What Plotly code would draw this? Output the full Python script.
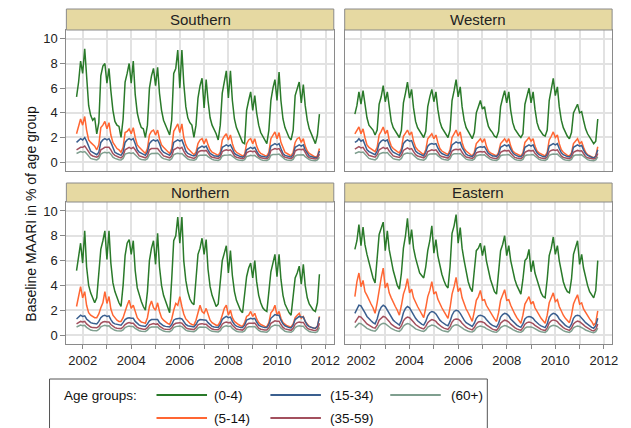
import pandas as pd
import plotly.graph_objects as go

W, H = 631, 428
def px(x): return x / W
def py(y): return 1 - y / H

# ---------------- data (monthly, Oct 2001 .. Oct 2011) ----------------
months = pd.date_range("2001-10-01", periods=121, freq="MS")
regions = ["Southern", "Western", "Northern", "Eastern"]
age_groups = ["(0-4)", "(5-14)", "(15-34)", "(35-59)", "(60+)"]

southern_0_4 = [5.3, 6.5, 8.2,
 7.2, 9.2, 6.8, 4.6, 3.8, 3.4, 3.6, 2.3, 3.2, 7.0, 7.8, 8.0,
 6.4, 7.6, 5.8, 4.2, 3.3, 3.0, 2.9, 2.0, 3.5, 6.5, 7.2, 8.0,
 6.4, 8.2, 5.5, 4.0, 3.3, 2.8, 2.7, 2.0, 3.0, 6.0, 7.0, 7.6,
 6.2, 7.7, 5.6, 4.2, 3.4, 3.0, 2.5, 2.2, 3.4, 7.2, 7.6, 9.1,
 6.0, 9.1, 6.4, 4.5, 3.6, 3.2, 3.0, 2.0, 3.0, 5.2, 6.2, 6.8,
 4.4, 6.7, 5.0, 3.6, 3.0, 2.7, 2.3, 1.8, 3.0, 5.6, 6.5, 7.4,
 5.2, 7.4, 5.0, 3.5, 2.8, 2.4, 2.0, 1.6, 1.5, 4.2, 5.0, 5.7,
 4.2, 5.4, 4.0, 3.0, 2.4, 2.1, 1.9, 1.5, 2.6, 5.0, 6.0, 6.7,
 5.0, 7.3, 5.0, 3.5, 2.8, 2.3, 2.0, 1.8, 2.6, 5.4, 6.0, 6.5,
 4.8, 6.3, 4.6, 3.4, 2.7, 2.3, 2.0, 1.5, 2.2, 3.9]
southern_5_14 = [2.3, 3.0, 3.5,
 3.0, 3.7, 2.6, 1.8, 1.6, 1.4, 1.3, 1.0, 1.4, 2.8, 3.0, 3.3,
 2.7, 3.2, 2.2, 1.6, 1.3, 1.1, 1.0, 0.8, 1.2, 2.4, 2.5, 2.7,
 2.3, 2.8, 2.0, 1.4, 1.2, 1.0, 0.9, 0.7, 1.1, 2.2, 2.5, 2.6,
 2.2, 2.6, 1.9, 1.4, 1.2, 1.0, 0.9, 0.7, 1.1, 2.5, 2.8, 3.1,
 2.4, 3.1, 2.0, 1.4, 1.1, 0.9, 0.8, 0.6, 0.8, 1.5, 1.8, 1.9,
 1.5, 1.9, 1.4, 1.0, 0.8, 0.7, 0.6, 0.55, 0.8, 1.8, 2.1, 2.3,
 1.8, 2.2, 1.5, 1.0, 0.8, 0.7, 0.6, 0.5, 0.6, 1.5, 1.8, 1.9,
 1.5, 1.9, 1.3, 0.9, 0.7, 0.6, 0.55, 0.5, 0.8, 1.9, 2.2, 2.45,
 1.9, 2.4, 1.6, 1.1, 0.8, 0.7, 0.6, 0.5, 0.8, 1.6, 1.9, 2.0,
 1.6, 1.9, 1.3, 0.9, 0.7, 0.6, 0.5, 0.4, 0.5, 1.1]
southern_15_34 = [1.6, 1.8, 1.9,
 1.8, 2.0, 1.7, 1.2, 0.9, 0.8, 0.7, 0.6, 0.8, 1.6, 1.8, 1.9,
 1.8, 1.9, 1.6, 1.1, 0.8, 0.7, 0.6, 0.55, 0.8, 1.6, 1.8, 1.9,
 1.8, 1.9, 1.5, 1.0, 0.8, 0.7, 0.6, 0.55, 0.8, 1.5, 1.7, 1.8,
 1.7, 1.8, 1.5, 1.0, 0.8, 0.7, 0.6, 0.55, 0.8, 1.6, 1.7, 1.8,
 1.7, 1.8, 1.4, 0.9, 0.7, 0.6, 0.55, 0.5, 0.6, 1.1, 1.2, 1.3,
 1.2, 1.3, 1.0, 0.7, 0.6, 0.5, 0.5, 0.45, 0.6, 1.2, 1.3, 1.4,
 1.3, 1.4, 1.1, 0.7, 0.6, 0.5, 0.45, 0.4, 0.5, 1.0, 1.1, 1.2,
 1.1, 1.2, 0.9, 0.6, 0.5, 0.45, 0.45, 0.4, 0.6, 1.3, 1.4, 1.5,
 1.4, 1.5, 1.1, 0.7, 0.55, 0.5, 0.45, 0.4, 0.6, 1.2, 1.3, 1.4,
 1.3, 1.4, 1.0, 0.7, 0.5, 0.45, 0.4, 0.35, 0.4, 0.9]
southern_35_59 = [1.0, 1.1, 1.2,
 1.2, 1.3, 1.1, 0.8, 0.6, 0.5, 0.45, 0.4, 0.5, 1.0, 1.1, 1.2,
 1.2, 1.2, 1.0, 0.7, 0.55, 0.45, 0.4, 0.35, 0.5, 1.0, 1.1, 1.2,
 1.1, 1.2, 1.0, 0.7, 0.5, 0.45, 0.4, 0.35, 0.5, 1.0, 1.1, 1.1,
 1.1, 1.1, 0.9, 0.65, 0.5, 0.45, 0.4, 0.35, 0.5, 1.0, 1.1, 1.2,
 1.1, 1.2, 0.9, 0.6, 0.45, 0.4, 0.35, 0.3, 0.4, 0.8, 0.9, 0.95,
 0.9, 0.95, 0.75, 0.5, 0.4, 0.35, 0.3, 0.3, 0.4, 0.85, 0.95, 1.0,
 0.95, 1.0, 0.8, 0.5, 0.4, 0.35, 0.3, 0.28, 0.35, 0.75, 0.85, 0.9,
 0.85, 0.9, 0.7, 0.45, 0.35, 0.3, 0.3, 0.28, 0.4, 0.95, 1.05, 1.1,
 1.05, 1.1, 0.85, 0.5, 0.4, 0.35, 0.3, 0.28, 0.4, 0.9, 1.0, 1.05,
 1.0, 1.05, 0.8, 0.5, 0.35, 0.3, 0.28, 0.25, 0.3, 0.65]
southern_60 = [0.7, 0.8, 0.85,
 0.8, 0.85, 0.7, 0.45, 0.3, 0.25, 0.2, 0.18, 0.3, 0.65, 0.75, 0.8,
 0.75, 0.8, 0.65, 0.4, 0.3, 0.22, 0.2, 0.17, 0.3, 0.65, 0.7, 0.75,
 0.7, 0.75, 0.6, 0.4, 0.28, 0.22, 0.2, 0.17, 0.28, 0.6, 0.7, 0.72,
 0.7, 0.72, 0.6, 0.38, 0.28, 0.22, 0.2, 0.16, 0.28, 0.6, 0.68, 0.72,
 0.68, 0.7, 0.55, 0.35, 0.25, 0.2, 0.18, 0.15, 0.22, 0.5, 0.55, 0.58,
 0.55, 0.58, 0.45, 0.3, 0.22, 0.18, 0.16, 0.14, 0.22, 0.5, 0.56, 0.6,
 0.58, 0.6, 0.48, 0.3, 0.22, 0.18, 0.15, 0.13, 0.2, 0.45, 0.5, 0.55,
 0.52, 0.55, 0.42, 0.28, 0.2, 0.16, 0.15, 0.13, 0.22, 0.55, 0.62, 0.65,
 0.62, 0.65, 0.5, 0.3, 0.22, 0.18, 0.15, 0.13, 0.22, 0.5, 0.58, 0.6,
 0.58, 0.6, 0.45, 0.28, 0.2, 0.16, 0.14, 0.12, 0.18, 0.4]

western_0_4 = [3.9, 4.6, 5.7,
 4.7, 5.8, 4.6, 3.6, 3.0, 2.8, 2.6, 2.2, 2.6, 4.7, 5.3, 6.2,
 4.9, 5.7, 4.4, 3.3, 2.8, 2.5, 2.3, 2.0, 2.6, 4.8, 5.6, 6.5,
 5.2, 5.9, 4.4, 3.3, 2.8, 2.5, 2.3, 2.0, 2.5, 4.5, 5.3, 5.9,
 4.9, 5.7, 4.3, 3.3, 2.8, 2.5, 2.3, 2.0, 2.6, 5.0, 5.8, 6.7,
 5.3, 6.1, 4.5, 3.4, 2.8, 2.5, 2.2, 1.9, 2.4, 4.0, 4.5, 5.0,
 4.3, 4.5, 3.6, 2.9, 2.6, 2.4, 2.1, 2.0, 2.5, 4.5, 5.2, 5.8,
 4.8, 5.7, 4.2, 3.2, 2.7, 2.4, 2.2, 2.0, 2.3, 4.7, 5.3, 6.0,
 4.8, 5.7, 4.3, 3.2, 2.7, 2.4, 2.2, 2.1, 2.6, 5.0, 5.8, 6.8,
 5.4, 6.1, 4.5, 3.4, 2.8, 2.4, 2.1, 1.9, 2.4, 4.0, 4.4, 4.7,
 4.0, 4.1, 3.4, 2.7, 2.3, 2.0, 1.8, 1.5, 1.7, 3.5]
western_5_14 = [2.3, 2.6, 2.85,
 2.3, 2.7, 2.0, 1.4, 1.2, 1.1, 1.0, 0.85, 1.2, 2.2, 2.5, 2.85,
 2.3, 2.6, 1.8, 1.3, 1.1, 0.95, 0.85, 0.75, 1.1, 2.1, 2.4, 2.6,
 2.2, 2.45, 1.7, 1.2, 1.0, 0.85, 0.75, 0.6, 1.0, 1.9, 2.1, 2.3,
 1.9, 2.2, 1.6, 1.1, 0.9, 0.8, 0.7, 0.6, 1.0, 2.0, 2.3, 2.6,
 2.1, 2.45, 1.6, 1.1, 0.9, 0.75, 0.65, 0.5, 0.8, 1.5, 1.7, 1.9,
 1.6, 1.9, 1.3, 0.9, 0.75, 0.65, 0.6, 0.5, 0.8, 1.5, 1.7, 1.9,
 1.6, 1.9, 1.3, 0.9, 0.75, 0.65, 0.55, 0.5, 0.75, 1.6, 1.8, 2.0,
 1.7, 1.9, 1.3, 0.9, 0.75, 0.65, 0.55, 0.5, 0.8, 1.8, 2.1, 2.45,
 2.0, 2.2, 1.5, 1.0, 0.8, 0.65, 0.55, 0.5, 0.75, 1.5, 1.7, 1.9,
 1.5, 1.65, 1.2, 0.8, 0.6, 0.5, 0.45, 0.35, 0.5, 1.25]
western_15_34 = [1.6, 1.7, 1.9,
 1.7, 1.8, 1.4, 1.0, 0.85, 0.75, 0.7, 0.6, 0.9, 1.5, 1.7, 1.8,
 1.7, 1.8, 1.4, 1.0, 0.8, 0.7, 0.65, 0.55, 0.85, 1.5, 1.7, 1.8,
 1.7, 1.75, 1.3, 0.9, 0.75, 0.65, 0.6, 0.5, 0.8, 1.3, 1.45, 1.5,
 1.45, 1.5, 1.15, 0.85, 0.7, 0.6, 0.55, 0.5, 0.8, 1.4, 1.55, 1.65,
 1.55, 1.6, 1.2, 0.85, 0.65, 0.55, 0.5, 0.45, 0.65, 1.1, 1.2, 1.25,
 1.2, 1.25, 1.0, 0.7, 0.6, 0.5, 0.5, 0.45, 0.65, 1.2, 1.3, 1.4,
 1.3, 1.4, 1.05, 0.75, 0.6, 0.5, 0.45, 0.43, 0.6, 1.2, 1.3, 1.4,
 1.3, 1.4, 1.05, 0.75, 0.6, 0.5, 0.45, 0.43, 0.65, 1.3, 1.4, 1.5,
 1.4, 1.5, 1.1, 0.75, 0.6, 0.5, 0.45, 0.42, 0.6, 1.2, 1.3, 1.4,
 1.3, 1.35, 1.0, 0.7, 0.55, 0.45, 0.4, 0.35, 0.45, 1.0]
western_35_59 = [1.05, 1.15, 1.25,
 1.15, 1.2, 0.95, 0.7, 0.55, 0.5, 0.45, 0.4, 0.6, 1.0, 1.1, 1.2,
 1.1, 1.15, 0.9, 0.65, 0.5, 0.45, 0.4, 0.38, 0.55, 0.95, 1.05, 1.15,
 1.05, 1.1, 0.85, 0.6, 0.5, 0.42, 0.4, 0.35, 0.5, 0.85, 0.95, 1.0,
 0.95, 1.0, 0.8, 0.55, 0.45, 0.4, 0.38, 0.33, 0.5, 0.9, 1.0, 1.05,
 1.0, 1.05, 0.8, 0.55, 0.42, 0.36, 0.33, 0.3, 0.42, 0.75, 0.82, 0.86,
 0.82, 0.86, 0.68, 0.48, 0.38, 0.33, 0.3, 0.28, 0.42, 0.8, 0.88, 0.95,
 0.9, 0.95, 0.72, 0.5, 0.38, 0.33, 0.3, 0.28, 0.4, 0.8, 0.88, 0.95,
 0.9, 0.95, 0.72, 0.5, 0.38, 0.33, 0.3, 0.28, 0.42, 0.85, 0.95, 1.0,
 0.95, 1.0, 0.75, 0.5, 0.38, 0.33, 0.3, 0.28, 0.4, 0.8, 0.88, 0.95,
 0.9, 0.92, 0.7, 0.45, 0.35, 0.3, 0.28, 0.25, 0.3, 0.7]
western_60 = [0.7, 0.78, 0.83,
 0.78, 0.82, 0.65, 0.42, 0.3, 0.25, 0.22, 0.18, 0.32, 0.65, 0.72, 0.78,
 0.74, 0.78, 0.6, 0.4, 0.28, 0.23, 0.2, 0.17, 0.3, 0.62, 0.7, 0.74,
 0.7, 0.72, 0.56, 0.37, 0.27, 0.22, 0.2, 0.16, 0.28, 0.58, 0.65, 0.68,
 0.65, 0.68, 0.53, 0.35, 0.26, 0.21, 0.19, 0.16, 0.28, 0.6, 0.67, 0.7,
 0.67, 0.7, 0.53, 0.34, 0.24, 0.2, 0.17, 0.15, 0.24, 0.5, 0.56, 0.6,
 0.57, 0.6, 0.46, 0.3, 0.22, 0.18, 0.16, 0.14, 0.24, 0.52, 0.58, 0.62,
 0.6, 0.62, 0.48, 0.31, 0.22, 0.18, 0.16, 0.14, 0.22, 0.52, 0.58, 0.62,
 0.6, 0.62, 0.48, 0.31, 0.22, 0.18, 0.16, 0.14, 0.24, 0.55, 0.62, 0.66,
 0.63, 0.65, 0.5, 0.32, 0.22, 0.18, 0.16, 0.14, 0.22, 0.5, 0.57, 0.6,
 0.58, 0.6, 0.46, 0.29, 0.2, 0.16, 0.14, 0.12, 0.18, 0.42]

northern_0_4 = [5.2, 6.5, 7.4,
 5.8, 8.4, 5.5, 4.0, 3.4, 3.0, 2.6, 3.0, 5.0, 6.9, 7.6, 8.4,
 6.1, 8.4, 5.8, 4.2, 3.5, 3.0, 2.6, 2.3, 4.0, 6.4, 7.4, 7.7,
 6.5, 7.6, 5.2, 3.8, 3.2, 2.7, 2.3, 2.0, 3.5, 6.0, 7.0, 7.6,
 5.7, 8.2, 5.5, 4.0, 3.2, 2.7, 2.2, 1.8, 4.5, 7.6, 8.0, 9.5,
 7.4, 9.5, 6.0, 4.4, 3.5, 2.9, 2.6, 2.45, 4.5, 6.5, 7.0, 7.8,
 6.5, 7.7, 5.3, 3.9, 3.2, 2.7, 2.3, 2.5, 4.5, 6.0, 6.6, 7.2,
 5.0, 6.8, 4.8, 3.5, 2.8, 2.3, 2.0, 1.8, 3.2, 4.7, 5.4, 5.8,
 4.6, 6.0, 4.3, 3.2, 2.6, 2.2, 2.0, 1.9, 3.5, 5.1, 5.8, 6.5,
 4.7, 6.5, 4.5, 3.2, 2.5, 2.1, 1.8, 1.6, 3.2, 4.6, 5.0, 5.55,
 4.1, 5.7, 4.0, 3.0, 2.5, 2.2, 2.0, 1.9, 2.6, 4.9]
northern_5_14 = [2.3, 3.2, 3.9,
 3.0, 3.5, 2.4, 1.8, 1.6, 1.5, 1.4, 1.4, 1.7, 2.2, 2.6, 3.5,
 2.55, 3.1, 2.1, 1.6, 1.4, 1.2, 1.1, 1.1, 1.4, 2.0, 2.4, 2.8,
 2.15, 2.4, 1.8, 1.4, 1.2, 1.05, 1.0, 0.95, 1.4, 2.3, 2.75, 2.2,
 2.0, 2.6, 1.9, 1.4, 1.2, 1.05, 0.95, 0.85, 1.3, 2.0, 2.55, 2.4,
 3.1, 2.3, 1.7, 1.3, 1.1, 0.95, 0.85, 0.8, 1.2, 1.9, 2.4, 1.9,
 1.75, 2.15, 1.6, 1.2, 1.0, 0.9, 0.8, 0.8, 1.1, 1.6, 2.15, 2.4,
 1.6, 2.0, 1.4, 1.1, 0.95, 0.85, 0.75, 0.7, 1.0, 1.5, 1.6, 1.9,
 1.5, 1.75, 1.3, 1.0, 0.85, 0.75, 0.7, 0.68, 1.0, 1.8, 2.0, 2.4,
 1.6, 1.9, 1.35, 1.0, 0.85, 0.75, 0.7, 0.65, 0.9, 1.4, 1.6, 1.75,
 1.35, 1.5, 1.1, 0.85, 0.7, 0.62, 0.58, 0.54, 0.7, 1.5]
northern_15_34 = [1.3, 1.45, 1.6,
 1.5, 1.55, 1.3, 1.1, 1.0, 0.95, 0.9, 0.9, 1.1, 1.4, 1.55, 1.6,
 1.5, 1.55, 1.25, 1.0, 0.9, 0.85, 0.8, 0.8, 1.0, 1.25, 1.35, 1.4,
 1.35, 1.35, 1.1, 0.9, 0.8, 0.75, 0.7, 0.7, 0.9, 1.15, 1.25, 1.25,
 1.2, 1.25, 1.0, 0.85, 0.75, 0.7, 0.65, 0.65, 0.85, 1.2, 1.3, 1.35,
 1.35, 1.3, 1.05, 0.85, 0.75, 0.7, 0.65, 0.65, 0.85, 1.15, 1.25, 1.25,
 1.2, 1.2, 1.0, 0.8, 0.7, 0.65, 0.62, 0.62, 0.85, 1.25, 1.4, 1.5,
 1.4, 1.45, 1.1, 0.85, 0.72, 0.65, 0.6, 0.6, 0.8, 1.2, 1.3, 1.35,
 1.3, 1.35, 1.05, 0.8, 0.7, 0.63, 0.6, 0.6, 0.85, 1.35, 1.5, 1.65,
 1.6, 1.6, 1.2, 0.9, 0.75, 0.65, 0.6, 0.58, 0.8, 1.25, 1.4, 1.5,
 1.45, 1.45, 1.1, 0.8, 0.68, 0.6, 0.57, 0.55, 0.7, 1.45]
northern_35_59 = [0.9, 1.0, 1.1,
 1.05, 1.1, 0.9, 0.75, 0.65, 0.6, 0.58, 0.58, 0.7, 0.95, 1.05, 1.1,
 1.05, 1.05, 0.85, 0.7, 0.6, 0.55, 0.52, 0.52, 0.65, 0.85, 0.95, 1.0,
 0.95, 0.95, 0.78, 0.62, 0.55, 0.5, 0.47, 0.47, 0.6, 0.82, 0.9, 0.92,
 0.88, 0.9, 0.72, 0.58, 0.5, 0.46, 0.44, 0.44, 0.58, 0.85, 0.95, 1.0,
 1.0, 0.95, 0.75, 0.6, 0.5, 0.46, 0.44, 0.44, 0.58, 0.82, 0.9, 0.92,
 0.88, 0.88, 0.72, 0.56, 0.48, 0.44, 0.42, 0.42, 0.58, 0.88, 1.0, 1.05,
 1.0, 1.02, 0.78, 0.58, 0.48, 0.44, 0.4, 0.4, 0.55, 0.85, 0.95, 0.98,
 0.95, 0.97, 0.75, 0.56, 0.47, 0.42, 0.4, 0.4, 0.58, 0.95, 1.05, 1.15,
 1.12, 1.12, 0.85, 0.62, 0.5, 0.44, 0.4, 0.38, 0.55, 0.88, 1.0, 1.05,
 1.02, 1.02, 0.78, 0.56, 0.46, 0.4, 0.38, 0.36, 0.45, 0.95]
northern_60 = [0.65, 0.72, 0.8,
 0.76, 0.78, 0.62, 0.48, 0.4, 0.36, 0.34, 0.34, 0.45, 0.66, 0.74, 0.78,
 0.74, 0.75, 0.58, 0.45, 0.38, 0.34, 0.32, 0.32, 0.42, 0.6, 0.68, 0.72,
 0.68, 0.68, 0.54, 0.42, 0.35, 0.31, 0.29, 0.29, 0.4, 0.58, 0.65, 0.67,
 0.64, 0.65, 0.5, 0.38, 0.32, 0.29, 0.27, 0.27, 0.38, 0.6, 0.68, 0.72,
 0.72, 0.68, 0.52, 0.4, 0.32, 0.29, 0.27, 0.27, 0.37, 0.57, 0.64, 0.66,
 0.63, 0.63, 0.5, 0.37, 0.3, 0.27, 0.25, 0.25, 0.36, 0.6, 0.7, 0.74,
 0.7, 0.72, 0.54, 0.38, 0.3, 0.26, 0.24, 0.24, 0.34, 0.58, 0.66, 0.69,
 0.66, 0.68, 0.52, 0.37, 0.29, 0.25, 0.23, 0.23, 0.36, 0.65, 0.74, 0.8,
 0.78, 0.78, 0.58, 0.4, 0.3, 0.26, 0.23, 0.22, 0.34, 0.6, 0.7, 0.74,
 0.71, 0.71, 0.53, 0.37, 0.28, 0.24, 0.22, 0.21, 0.28, 0.62]

eastern_0_4 = [6.9, 7.6, 8.9,
 7.2, 8.7, 7.3, 6.5, 5.8, 5.1, 4.6, 4.2, 6.0, 8.1, 8.6, 9.1,
 6.8, 8.4, 6.9, 6.0, 5.2, 4.6, 4.0, 3.7, 5.0, 7.0, 8.0, 9.4,
 7.3, 8.5, 7.0, 6.2, 5.5, 5.0, 4.8, 4.6, 5.5, 6.8, 7.6, 8.8,
 6.6, 7.7, 6.4, 5.6, 4.9, 4.4, 4.0, 3.8, 5.5, 8.2, 8.8, 9.7,
 7.4, 8.65, 7.0, 6.0, 5.0, 4.3, 3.8, 3.5, 5.2, 6.8, 7.0, 7.4,
 6.4, 7.2, 6.0, 5.2, 4.5, 4.0, 3.5, 3.3, 5.0, 6.8, 7.3, 8.0,
 6.4, 7.2, 6.0, 5.2, 4.5, 4.0, 3.6, 3.3, 4.5, 6.0, 6.2, 6.9,
 5.1, 6.0, 5.0, 4.4, 3.8, 3.4, 3.1, 3.0, 4.5, 6.4, 7.0, 7.9,
 6.5, 7.2, 6.0, 5.0, 4.3, 3.8, 3.5, 3.4, 4.5, 6.5, 7.0, 7.6,
 5.7, 6.5, 5.4, 4.6, 4.0, 3.5, 3.2, 3.0, 3.6, 6.0]
eastern_5_14 = [3.1, 4.3, 5.0,
 3.9, 4.4, 3.5, 3.2, 2.8, 2.5, 2.2, 1.75, 2.6, 3.8, 4.6, 5.4,
 3.8, 4.2, 3.4, 3.0, 2.6, 2.3, 2.0, 1.6, 2.4, 3.3, 3.8, 4.55,
 3.4, 3.7, 3.0, 2.6, 2.3, 2.0, 1.7, 1.4, 2.2, 3.1, 3.6, 4.3,
 3.3, 3.5, 2.9, 2.5, 2.2, 1.9, 1.6, 1.35, 2.2, 3.3, 3.9, 4.65,
 3.5, 3.8, 3.0, 2.5, 2.1, 1.8, 1.4, 1.1, 1.9, 2.8, 3.1, 3.6,
 2.8, 2.85, 2.4, 2.1, 1.8, 1.5, 1.3, 1.1, 1.8, 2.8, 3.2, 3.65,
 2.8, 2.85, 2.4, 2.0, 1.7, 1.4, 1.2, 0.95, 1.6, 2.5, 2.8, 3.1,
 2.5, 2.7, 2.2, 1.9, 1.6, 1.35, 1.15, 0.95, 1.6, 2.6, 3.0, 3.4,
 2.7, 2.85, 2.3, 1.9, 1.6, 1.35, 1.15, 1.0, 1.6, 2.5, 2.9, 3.25,
 2.5, 2.6, 2.1, 1.8, 1.5, 1.3, 1.1, 0.8, 1.0, 1.95]
eastern_15_34 = [1.75, 2.1, 2.4,
 2.35, 2.1, 1.8, 1.5, 1.3, 1.15, 1.0, 0.9, 1.3, 1.9, 2.25, 2.4,
 2.3, 2.0, 1.7, 1.4, 1.2, 1.05, 0.9, 0.8, 1.2, 1.8, 2.15, 2.3,
 2.2, 1.9, 1.6, 1.35, 1.15, 1.0, 0.88, 0.8, 1.1, 1.55, 1.8, 1.9,
 1.85, 1.7, 1.45, 1.2, 1.05, 0.92, 0.82, 0.75, 1.1, 1.6, 1.9, 2.0,
 1.95, 1.75, 1.45, 1.2, 1.0, 0.88, 0.78, 0.7, 0.95, 1.35, 1.55, 1.6,
 1.55, 1.45, 1.25, 1.05, 0.9, 0.78, 0.7, 0.65, 0.95, 1.45, 1.65, 1.75,
 1.7, 1.55, 1.3, 1.1, 0.92, 0.8, 0.7, 0.62, 0.9, 1.3, 1.45, 1.5,
 1.45, 1.35, 1.15, 0.98, 0.85, 0.74, 0.65, 0.6, 0.9, 1.45, 1.65, 1.75,
 1.7, 1.55, 1.3, 1.1, 0.92, 0.78, 0.68, 0.6, 0.88, 1.35, 1.55, 1.6,
 1.55, 1.4, 1.2, 1.0, 0.85, 0.72, 0.62, 0.55, 0.75, 1.35]
eastern_35_59 = [1.0, 1.3, 1.5,
 1.45, 1.3, 1.1, 0.9, 0.78, 0.68, 0.6, 0.55, 0.8, 1.2, 1.4, 1.5,
 1.45, 1.3, 1.1, 0.88, 0.75, 0.65, 0.57, 0.52, 0.75, 1.15, 1.35, 1.45,
 1.4, 1.25, 1.05, 0.85, 0.72, 0.62, 0.55, 0.5, 0.7, 1.0, 1.15, 1.25,
 1.2, 1.1, 0.92, 0.75, 0.65, 0.56, 0.5, 0.45, 0.68, 1.05, 1.25, 1.3,
 1.28, 1.15, 0.95, 0.76, 0.63, 0.54, 0.47, 0.42, 0.6, 0.9, 1.05, 1.1,
 1.05, 0.98, 0.82, 0.68, 0.57, 0.48, 0.42, 0.38, 0.6, 0.95, 1.1, 1.2,
 1.15, 1.05, 0.88, 0.72, 0.6, 0.5, 0.43, 0.38, 0.58, 0.88, 1.0, 1.05,
 1.0, 0.92, 0.78, 0.65, 0.55, 0.46, 0.4, 0.36, 0.58, 0.98, 1.15, 1.22,
 1.18, 1.08, 0.9, 0.73, 0.6, 0.5, 0.42, 0.37, 0.56, 0.9, 1.05, 1.12,
 1.08, 0.98, 0.82, 0.67, 0.55, 0.46, 0.38, 0.33, 0.45, 0.9]
eastern_60 = [0.6, 0.8, 0.95,
 0.92, 0.82, 0.68, 0.54, 0.45, 0.39, 0.35, 0.32, 0.48, 0.75, 0.88, 0.95,
 0.92, 0.82, 0.67, 0.53, 0.44, 0.38, 0.33, 0.3, 0.45, 0.72, 0.85, 0.92,
 0.88, 0.78, 0.64, 0.5, 0.42, 0.36, 0.32, 0.29, 0.42, 0.64, 0.74, 0.8,
 0.77, 0.7, 0.57, 0.45, 0.38, 0.32, 0.28, 0.26, 0.4, 0.66, 0.78, 0.83,
 0.8, 0.72, 0.58, 0.46, 0.37, 0.31, 0.27, 0.24, 0.36, 0.58, 0.68, 0.72,
 0.68, 0.63, 0.52, 0.42, 0.34, 0.28, 0.24, 0.22, 0.36, 0.6, 0.7, 0.76,
 0.73, 0.67, 0.55, 0.44, 0.35, 0.29, 0.25, 0.22, 0.34, 0.56, 0.65, 0.68,
 0.65, 0.6, 0.5, 0.4, 0.33, 0.27, 0.23, 0.21, 0.34, 0.62, 0.73, 0.78,
 0.75, 0.69, 0.57, 0.45, 0.36, 0.29, 0.25, 0.21, 0.33, 0.58, 0.68, 0.72,
 0.69, 0.63, 0.52, 0.41, 0.33, 0.27, 0.22, 0.19, 0.27, 0.55]

series = {
    "Southern": [southern_0_4, southern_5_14, southern_15_34, southern_35_59, southern_60],
    "Western": [western_0_4, western_5_14, western_15_34, western_35_59, western_60],
    "Northern": [northern_0_4, northern_5_14, northern_15_34, northern_35_59, northern_60],
    "Eastern": [eastern_0_4, eastern_5_14, eastern_15_34, eastern_35_59, eastern_60],
}
for r in regions:
    for i, s in enumerate(series[r]):
        assert len(s) == len(months), (r, i, len(s))

colors = ["#2a7a2a", "#ff6633", "#3a5f8f", "#a3505e", "#7f9f8f"]
year_ticks = ["2002-01-01", "2004-01-01", "2006-01-01", "2008-01-01", "2010-01-01", "2012-01-01"]
year_labels = ["2002", "2004", "2006", "2008", "2010", "2012"]
y_ticks = [0, 2, 4, 6, 8, 10]

# ---------------- layout geometry (pixels) ----------------
FONT = "Arial, Liberation Sans, sans-serif"
panels = {
    "Southern": (67, 337, 30, 171, 9),
    "Western": (348, 618, 30, 171, 9),
    "Northern": (67, 337, 202, 344, 183),
    "Eastern": (348, 618, 202, 344, 183),
}

fig = go.Figure()
layout = dict(width=W, height=H, margin=dict(l=0, r=0, t=0, b=0),
              paper_bgcolor="white", plot_bgcolor="white",
              showlegend=False, font=dict(family=FONT, size=12, color="#222"))
shapes, annotations = [], []

for k, r in enumerate(regions):
    x0, x1, y0, y1, htop = panels[r]
    n = k + 1
    xa = "xaxis" if n == 1 else f"xaxis{n}"
    ya = "yaxis" if n == 1 else f"yaxis{n}"
    xref = "x" if n == 1 else f"x{n}"
    yref = "y" if n == 1 else f"y{n}"
    left = r in ("Southern", "Northern")
    bottom = r in ("Northern", "Eastern")
    layout[xa] = dict(domain=[px(x0), px(x1)], anchor=yref, type="date",
                      range=["2001-05-01", "2012-05-04"],
                      tickvals=year_ticks, ticktext=year_labels,
                      showticklabels=bottom, ticks="outside" if bottom else "",
                      ticklen=4, tickcolor="#888",
                      tickfont=dict(size=13, color="#222"),
                      showgrid=True, gridcolor="#e2e2e2", gridwidth=1.5,
                      minor=dict(dtick="M12", tick0="2001-01-01", showgrid=True,
                                 gridcolor="#e2e2e2", gridwidth=1.5,
                                 ticks="outside" if bottom else "", ticklen=4,
                                 tickcolor="#888"),
                      showline=True, linecolor="#8a8a8a", linewidth=1, mirror=True,
                      zeroline=False)
    layout[ya] = dict(domain=[py(y1), py(y0)], anchor=xref,
                      range=[-0.72, 10.72], tickvals=y_ticks,
                      showticklabels=left, ticks="outside" if left else "",
                      ticklen=5, tickcolor="#888",
                      tickfont=dict(size=13, color="#222"),
                      showgrid=True, gridcolor="#e2e2e2", gridwidth=1.5,
                      showline=True, linecolor="#8a8a8a", linewidth=1, mirror=True,
                      zeroline=False)
    for i, vals in enumerate(series[r]):
        fig.add_trace(go.Scatter(x=months, y=vals, mode="lines", name=age_groups[i],
                                 line=dict(color=colors[i], width=1.5),
                                 xaxis=xref, yaxis=yref, hoverinfo="skip"))
    # header strip
    shapes.append(dict(type="rect", xref="paper", yref="paper",
                       x0=px(x0), x1=px(x1), y0=py(y0), y1=py(htop),
                       fillcolor="#e6d9a2", line=dict(color="#8a8a8a", width=1)))
    annotations.append(dict(text=r, xref="paper", yref="paper",
                            x=px((x0 + x1) / 2), y=py((y0 + htop) / 2),
                            xanchor="center", yanchor="middle", showarrow=False,
                            font=dict(size=15, color="#222", family=FONT)))

# y axis title
annotations.append(dict(text="Baseline MAARI in % of age group", xref="paper", yref="paper",
                        x=px(31), y=py(214), textangle=-90, showarrow=False,
                        xanchor="center", yanchor="middle",
                        font=dict(size=14, color="#111", family=FONT)))

# legend box
shapes.append(dict(type="rect", xref="paper", yref="paper",
                   x0=px(50), x1=px(492), y0=py(445), y1=py(379),
                   fillcolor="rgba(0,0,0,0)", line=dict(color="#555", width=1)))
annotations.append(dict(text="Age groups:", xref="paper", yref="paper",
                        x=px(63), y=py(395), xanchor="left", yanchor="middle",
                        showarrow=False, font=dict(size=13.5, color="#111", family=FONT)))
leg_pos = [(158, 395), (158, 418), (273, 395), (273, 418), (394, 395)]
for i, (lx, ly) in enumerate(leg_pos):
    shapes.append(dict(type="line", xref="paper", yref="paper",
                       x0=px(lx), x1=px(lx + 51), y0=py(ly), y1=py(ly),
                       line=dict(color=colors[i], width=2.2)))
    annotations.append(dict(text=age_groups[i], xref="paper", yref="paper",
                            x=px(lx + 56 if i < 2 else (lx + 58 if i < 4 else lx + 59)),
                            y=py(ly), xanchor="left", yanchor="middle", showarrow=False,
                            font=dict(size=13.5, color="#111", family=FONT)))

layout["shapes"] = shapes
layout["annotations"] = annotations
fig.update_layout(**layout)
fig.write_html("out.html")
